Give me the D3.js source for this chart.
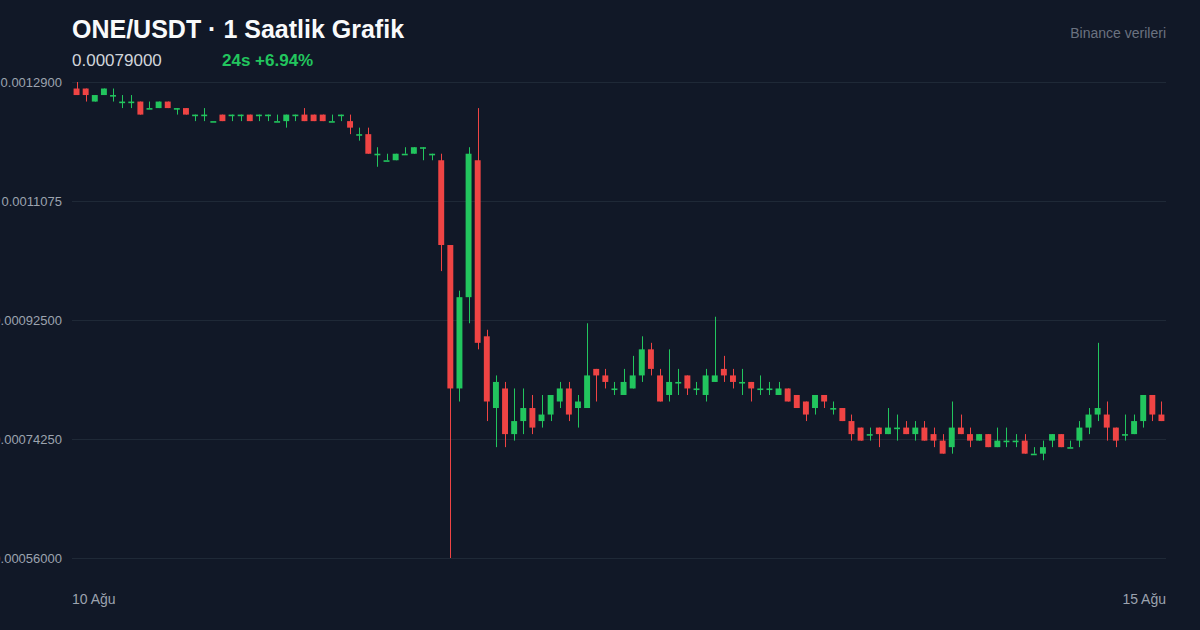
<!DOCTYPE html>
<html>
<head>
<meta charset="utf-8">
<script src="https://cdn.jsdelivr.net/npm/d3@7"></script>
<style>
  html, body { margin: 0; padding: 0; background: #111827; }
  svg { display: block; }
  text { font-family: "Liberation Sans", Arial, Helvetica, sans-serif; }
</style>
</head>
<body>
<svg id="chart" width="1200" height="630"></svg>
<script>
// ---- data (prices in USDT) ----
const openP  = [0.00128,0.00128,0.00126,0.00127,0.00127,0.00126,0.00126,0.00126,0.00125,0.00125,
                0.00126,0.00125,0.00125,0.00124,0.00124,0.00123,0.00124,0.00124,0.00124,0.00124,
                0.00124,0.00124,0.00123,0.00123,0.00124,0.00124,0.00124,0.00124,0.00123,0.00124,
                0.00123,0.00121,0.00121,0.00118,0.00117,0.00117,0.00118,0.00118,0.00119,0.00118,
                0.00117,0.00104,0.00082,0.00096,0.00117,0.00090,0.00079,0.00082,0.00075,0.00077,
                0.00079,0.00077,0.00078,0.00080,0.00082,0.00079,0.00079,0.00085,0.00084,0.00082,
                0.00081,0.00082,0.00084,0.00088,0.00084,0.00081,0.00083,0.00084,0.00082,0.00081,
                0.00083,0.00085,0.00084,0.00083,0.00083,0.00082,0.00082,0.00081,0.00082,0.00081,
                0.00080,0.00079,0.00081,0.00079,0.00079,0.00077,0.00076,0.00075,0.00076,0.00075,
                0.00076,0.00076,0.00075,0.00076,0.00075,0.00074,0.00073,0.00076,0.00075,0.00074,
                0.00075,0.00073,0.00074,0.00074,0.00074,0.00072,0.00072,0.00074,0.00075,0.00073,
                0.00074,0.00076,0.00078,0.00078,0.00076,0.00075,0.00075,0.00077,0.00081,0.00078];
const highP  = [0.00129,0.00128,0.00127,0.00128,0.00128,0.00127,0.00127,0.00126,0.00126,0.00126,
                0.00126,0.00125,0.00125,0.00124,0.00125,0.00123,0.00124,0.00124,0.00124,0.00124,
                0.00124,0.00124,0.00124,0.00124,0.00124,0.00125,0.00124,0.00124,0.00124,0.00124,
                0.00124,0.00122,0.00122,0.00119,0.00118,0.00118,0.00119,0.00119,0.00119,0.00118,
                0.00118,0.00104,0.00097,0.00119,0.00125,0.00091,0.00084,0.00083,0.00082,0.00082,
                0.00081,0.00081,0.00081,0.00083,0.00083,0.00081,0.00092,0.00085,0.00085,0.00083,
                0.00085,0.00087,0.00090,0.00089,0.00085,0.00088,0.00085,0.00084,0.00083,0.00085,
                0.00093,0.00087,0.00085,0.00085,0.00083,0.00084,0.00083,0.00083,0.00082,0.00081,
                0.00080,0.00081,0.00081,0.00080,0.00079,0.00078,0.00076,0.00076,0.00076,0.00079,
                0.00078,0.00077,0.00077,0.00077,0.00076,0.00075,0.00080,0.00078,0.00076,0.00075,
                0.00075,0.00076,0.00076,0.00075,0.00075,0.00073,0.00074,0.00075,0.00075,0.00074,
                0.00077,0.00079,0.00089,0.00080,0.00076,0.00078,0.00078,0.00081,0.00081,0.00080];
const lowP   = [0.00127,0.00126,0.00126,0.00127,0.00126,0.00125,0.00125,0.00124,0.00125,0.00125,
                0.00125,0.00124,0.00124,0.00123,0.00123,0.00123,0.00123,0.00123,0.00123,0.00123,
                0.00123,0.00123,0.00123,0.00122,0.00123,0.00123,0.00123,0.00123,0.00123,0.00123,
                0.00121,0.00120,0.00118,0.00116,0.00117,0.00117,0.00118,0.00118,0.00117,0.00117,
                0.00100,0.00056,0.00080,0.00092,0.00088,0.00077,0.00073,0.00073,0.00074,0.00075,
                0.00075,0.00076,0.00077,0.00079,0.00077,0.00076,0.00079,0.00080,0.00082,0.00081,
                0.00081,0.00082,0.00083,0.00084,0.00080,0.00080,0.00081,0.00081,0.00081,0.00080,
                0.00083,0.00083,0.00082,0.00081,0.00080,0.00081,0.00081,0.00081,0.00080,0.00079,
                0.00077,0.00078,0.00079,0.00078,0.00077,0.00074,0.00074,0.00074,0.00073,0.00075,
                0.00074,0.00075,0.00074,0.00074,0.00073,0.00072,0.00072,0.00075,0.00073,0.00074,
                0.00073,0.00073,0.00073,0.00073,0.00072,0.00072,0.00071,0.00073,0.00073,0.00073,
                0.00073,0.00075,0.00077,0.00074,0.00073,0.00074,0.00075,0.00076,0.00077,0.00077];
const closeP = [0.00127,0.00127,0.00127,0.00128,0.00127,0.00126,0.00126,0.00124,0.00125,0.00126,
                0.00125,0.00125,0.00124,0.00124,0.00124,0.00123,0.00123,0.00124,0.00124,0.00123,
                0.00124,0.00124,0.00123,0.00124,0.00124,0.00123,0.00123,0.00123,0.00123,0.00124,
                0.00122,0.00121,0.00118,0.00118,0.00117,0.00118,0.00118,0.00119,0.00119,0.00118,
                0.00104,0.00082,0.00096,0.00118,0.00089,0.00080,0.00083,0.00075,0.00077,0.00079,
                0.00076,0.00078,0.00081,0.00082,0.00078,0.00080,0.00084,0.00084,0.00083,0.00082,
                0.00083,0.00084,0.00088,0.00085,0.00080,0.00083,0.00083,0.00082,0.00082,0.00084,
                0.00084,0.00084,0.00083,0.00083,0.00082,0.00082,0.00082,0.00082,0.00080,0.00079,
                0.00078,0.00081,0.00080,0.00079,0.00077,0.00075,0.00074,0.00075,0.00075,0.00076,
                0.00076,0.00075,0.00076,0.00074,0.00074,0.00072,0.00076,0.00075,0.00074,0.00075,
                0.00073,0.00074,0.00074,0.00074,0.00072,0.00072,0.00073,0.00075,0.00073,0.00073,
                0.00076,0.00078,0.00079,0.00076,0.00074,0.00075,0.00077,0.00081,0.00078,0.00077];

const yTickValues = [0.00129, 0.0011075, 0.000925, 0.0007425, 0.00056];
const yTickLabels = ["0.0012900", "0.0011075", "0.00092500", "0.00074250", "0.00056000"];
const xLabels = ["10 Ağu", "15 Ağu"];
const titleText = "ONE/USDT · 1 Saatlik Grafik";
const lastPriceText = "0.00079000";
const changeText = "24s +6.94%";
const sourceText = "Binance verileri";

(function () {
  // ---- layout ----
  const W = 1200, H = 630;
  const mLeft = 72, mRight = 1166, mTop = 82, mBottom = 558;
  const UP = "#22c55e", DOWN = "#ef4444";

  const candles = openP.map((o, i) => ({ i, o, h: highP[i], l: lowP[i], c: closeP[i] }));

  const svg = d3.select("#chart");
  svg.append("rect").attr("width", W).attr("height", H).attr("fill", "#111827");

  const x = d3.scaleBand()
    .domain(candles.map(d => d.i))
    .range([mLeft, mRight])
    .paddingInner(0.35)
    .paddingOuter(0.175);

  const y = d3.scaleLinear().domain([0.00056, 0.00129]).range([mBottom, mTop]);

  // grid + y labels
  const yAxis = d3.axisLeft(y)
    .tickValues(yTickValues)
    .tickFormat((d, i) => yTickLabels[i])
    .tickSize(-(mRight - mLeft))
    .tickPadding(10);

  const gy = svg.append("g").attr("transform", `translate(${mLeft},0)`).call(yAxis);
  gy.select(".domain").remove();
  gy.selectAll(".tick line").attr("stroke", "#1f2937").attr("stroke-width", 1);
  gy.selectAll(".tick text")
    .attr("fill", "#9ca3af")
    .attr("font-size", 13)
    .attr("font-family", "'Liberation Sans', Arial, sans-serif");

  // candles
  const g = svg.append("g");
  const bw = x.bandwidth();
  g.selectAll("line.wick").data(candles).join("line")
    .attr("class", "wick")
    .attr("x1", d => Math.round(x(d.i) + bw / 2) + 0.5)
    .attr("x2", d => Math.round(x(d.i) + bw / 2) + 0.5)
    .attr("y1", d => y(d.h))
    .attr("y2", d => y(d.l))
    .attr("stroke", d => d.c >= d.o ? UP : DOWN)
    .attr("stroke-width", 1);

  g.selectAll("rect.body").data(candles).join("rect")
    .attr("class", "body")
    .attr("x", d => x(d.i))
    .attr("width", bw)
    .attr("y", d => y(Math.max(d.o, d.c)))
    .attr("height", d => Math.max(1.6, Math.abs(y(d.o) - y(d.c))))
    .attr("fill", d => d.c >= d.o ? UP : DOWN);

  // x labels
  svg.append("text").attr("x", mLeft).attr("y", 604)
    .attr("fill", "#9ca3af").attr("font-size", 14).text(xLabels[0]);
  svg.append("text").attr("x", mRight).attr("y", 604).attr("text-anchor", "end")
    .attr("fill", "#9ca3af").attr("font-size", 14).text(xLabels[1]);

  // header
  svg.append("text").attr("x", mLeft).attr("y", 38)
    .attr("fill", "#f9fafb").attr("font-size", 25).attr("font-weight", 700).text(titleText);
  svg.append("text").attr("x", mLeft).attr("y", 66)
    .attr("fill", "#d1d5db").attr("font-size", 17).text(lastPriceText);
  svg.append("text").attr("x", 222).attr("y", 66)
    .attr("fill", UP).attr("font-size", 17).attr("font-weight", 700).text(changeText);
  svg.append("text").attr("x", mRight).attr("y", 38).attr("text-anchor", "end")
    .attr("fill", "#6b7280").attr("font-size", 14).text(sourceText);
})();
</script>
</body>
</html>
